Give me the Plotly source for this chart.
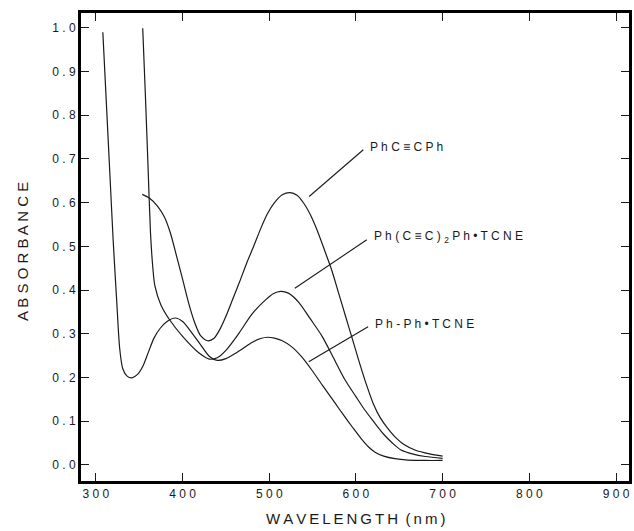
import plotly.graph_objects as go

# ---------------- data ----------------
wl_phph = [308, 312, 316, 320, 324, 327.5, 331, 336, 341.5, 348, 354, 360, 367, 374, 382, 391.5, 400, 408,
           420, 431, 440, 450, 460, 470, 480, 490, 498, 506, 515, 526, 537, 549, 562, 576, 586, 596, 606,
           614, 622, 632, 645, 660, 680, 700]
ab_phph = [0.99, 0.83, 0.67, 0.51, 0.375, 0.265, 0.22, 0.203, 0.199, 0.207, 0.225, 0.255, 0.29, 0.312, 0.328, 0.336,
           0.328, 0.309, 0.277, 0.248, 0.239, 0.243, 0.254, 0.267, 0.28, 0.289, 0.292, 0.29, 0.284, 0.27, 0.248,
           0.217, 0.18, 0.141, 0.113, 0.086, 0.06, 0.042, 0.029, 0.02, 0.014, 0.011, 0.01, 0.01]

wl_diyne = [354, 357, 360, 363, 365.5, 368, 375, 385, 400, 419, 431, 440, 450, 465, 480, 496, 505, 513, 522, 534,
            547, 561, 574, 587.5, 600, 610, 620, 632, 642, 652, 665, 680, 700]
ab_diyne = [0.999, 0.85, 0.69, 0.53, 0.455, 0.41, 0.366, 0.332, 0.294, 0.256, 0.242, 0.245, 0.262, 0.301, 0.345,
            0.378, 0.392, 0.397, 0.393, 0.372, 0.335, 0.294, 0.245, 0.194, 0.156, 0.126, 0.1, 0.07, 0.05, 0.034,
            0.025, 0.019, 0.015]

wl_tolan = [353.5, 362, 371, 379, 386, 393, 400, 407, 414, 421, 429, 436, 443, 450, 458, 466, 474, 482, 490, 498,
            506, 515, 524, 532, 540, 548, 556, 564, 572, 580, 588, 596, 604, 612, 620, 628, 636, 645, 655, 668,
            685, 700]
ab_tolan = [0.619, 0.61, 0.592, 0.567, 0.53, 0.478, 0.425, 0.37, 0.325, 0.295, 0.284, 0.289, 0.31, 0.34, 0.38,
            0.42, 0.462, 0.5, 0.54, 0.575, 0.6, 0.618, 0.623, 0.617, 0.598, 0.57, 0.533, 0.49, 0.446, 0.393,
            0.34, 0.287, 0.234, 0.184, 0.14, 0.108, 0.085, 0.064, 0.047, 0.034, 0.025, 0.02]

x_ticks = [300, 400, 500, 600, 700, 800, 900]
y_ticks = [0.0, 0.1, 0.2, 0.3, 0.4, 0.5, 0.6, 0.7, 0.8, 0.9, 1.0]

SP = " "


def spaced(s, sep=SP):
    return sep.join(list(s))


x_ticktext = [spaced(str(v)) for v in x_ticks]
y_ticktext = [spaced(f"{v:.1f}") for v in y_ticks]

# labels: (text, leader start x,y, leader end x,y) in data units
labels = [
    (SP.join(["P", "h", "C", "≡", "C", "P", "h"]), 546, 0.614, 608.5, 0.721),
    (SP.join(["P", "h", "(", "C", "≡", "C", ")", "<sub>2</sub>", "P", "h", "•", "T", "C", "N", "E"]),
     529.5, 0.404, 612.5, 0.515),
    (SP.join(["P", "h", "-", "P", "h", "•", "T", "C", "N", "E"]), 545.5, 0.236, 614, 0.316),
]

FONT = "Liberation Sans, Arial, sans-serif"
INK = "#1a1a1a"

fig = go.Figure()
for wl, ab in [(wl_phph, ab_phph), (wl_diyne, ab_diyne), (wl_tolan, ab_tolan)]:
    fig.add_trace(go.Scatter(x=wl, y=ab, mode="lines",
                             line=dict(color=INK, width=1.2, shape="spline", smoothing=0.8),
                             showlegend=False, hoverinfo="skip"))

for text, x0, y0, x1, y1 in labels:
    fig.add_shape(type="line", x0=x0, y0=y0, x1=x1, y1=y1, xref="x", yref="y",
                  line=dict(color=INK, width=1.1))
    fig.add_annotation(x=x1, y=y1, xref="x", yref="y", text=text, showarrow=False,
                       xanchor="left", yanchor="middle", xshift=5, yshift=3,
                       font=dict(family=FONT, size=12, color=INK))

fig.add_annotation(x=0, y=0.5, xref="paper", yref="paper", text=spaced("ABSORBANCE"),
                   textangle=-90, showarrow=False, xanchor="center", yanchor="middle", xshift=-59, yshift=-5,
                   font=dict(family=FONT, size=15, color=INK))
fig.add_annotation(x=0.5, y=0, xref="paper", yref="paper",
                   text=spaced("WAVELENGTH", "\u2009") + "\u2002" + spaced("(nm)", "\u2009"),
                   showarrow=False, xanchor="center", yanchor="middle", yshift=-37,
                   font=dict(family=FONT, size=15, color=INK))

axis_common = dict(showline=True, linewidth=3, linecolor="black", mirror="allticks",
                   ticks="inside", ticklen=8, tickwidth=1, tickcolor=INK,
                   showgrid=False, zeroline=False,
                   tickfont=dict(family=FONT, size=12, color=INK))

fig.update_layout(
    width=634, height=531,
    margin=dict(l=81, r=2, t=13, b=50),
    paper_bgcolor="white", plot_bgcolor="white",
    xaxis=dict(range=[282.8, 915], tickvals=x_ticks, ticktext=x_ticktext, **axis_common),
    yaxis=dict(range=[-0.037, 1.034], tickvals=y_ticks, ticktext=y_ticktext, **axis_common),
)

fig.write_html("out.html")
